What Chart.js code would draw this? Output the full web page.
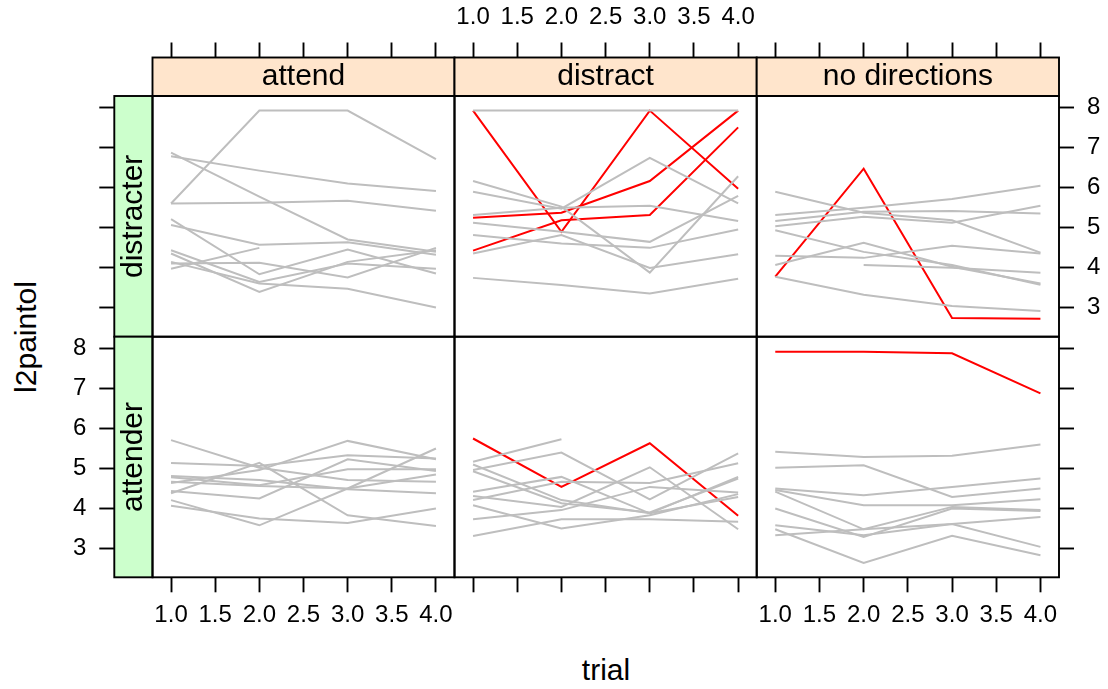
<!DOCTYPE html>
<html>
<head>
<meta charset="utf-8">
<title>l2paintol by trial</title>
<script src="https://cdn.jsdelivr.net/npm/chart.js@4/dist/chart.umd.min.js"></script>
<style>
html, body { margin: 0; padding: 0; background: #fff; }
#wrap { position: relative; width: 1108px; height: 689px; overflow: hidden; font-family: "Liberation Sans", Arial, sans-serif; }
#wrap canvas { position: absolute; left: 0; top: 0; }
.lab { position: absolute; font-size: 30px; line-height: 1; color: #000; white-space: nowrap; }
#ylab { left: 26px; top: 337px; transform: translate(-50%, -50%) rotate(-90deg); }
#xlab { left: 606px; top: 670px; transform: translate(-50%, -50%); }
</style>
</head>
<body>
<div id="wrap">
  <div id="ylab" class="lab">l2paintol</div>
  <div id="xlab" class="lab">trial</div>
</div>
<script>
// data
const TRIALS = [1, 2, 3, 4];
const COLS = ['attend', 'distract', 'no directions'];
const ROWS = ['distracter', 'attender'];
const X_TICKS = [1, 1.5, 2, 2.5, 3, 3.5, 4];
const Y_TICKS = [3, 4, 5, 6, 7, 8];

// one row of values per subject, per panel
const distracterAttend = [
  [5.60, 7.92, 7.92, 6.71],
  [6.87, 5.77, 4.70, 4.39],
  [6.78, 6.42, 6.10, 5.91],
  [5.60, 5.62, 5.67, 5.42],
  [5.06, 4.57, 4.63, 4.32],
  [5.21, 3.83, 4.45, 3.85],
  [4.43, 3.64, 4.10, 3.97],
  [4.35, 3.39, 4.14, 4.43],
  [3.97, 4.49, null, null],
  [4.10, 4.12, 3.75, 4.49],
  [4.14, 3.60, 3.47, 3.00]
];
const distracterAttendRed = [];

const distracterDistract = [
  [7.92, 7.92, 7.92, 7.92],
  [6.16, 5.52, 3.87, 6.28],
  [5.89, 5.47, 6.74, 5.60],
  [5.31, 5.49, 5.54, 5.16],
  [5.12, 4.89, 4.64, 5.79],
  [4.81, 4.60, 4.49, 4.95],
  [4.35, 4.81, 3.99, 4.33],
  [3.74, 3.56, 3.35, 3.72]
];
const distracterDistractRed = [
  [7.92, 4.89, 7.92, 5.97],
  [5.24, 5.37, 6.16, 7.92],
  [4.42, 5.18, 5.31, 7.50]
];

const distracterNoDir = [
  [5.89, 5.37, 5.18, 4.37],
  [5.31, 5.49, 5.71, 6.04],
  [5.16, 5.39, 5.41, 5.35],
  [5.03, 5.27, 5.12, 5.54],
  [4.93, 4.39, 4.06, 3.57],
  [4.29, 4.24, 4.54, 4.35],
  [4.06, 4.62, 4.02, 3.60],
  [null, 4.06, 3.99, 3.87],
  [3.77, 3.32, 3.04, 2.91]
];
const distracterNoDirRed = [
  [3.77, 6.47, 2.74, 2.72]
];

const attenderAttend = [
  [5.70, 5.01, 4.70, 4.66],
  [5.13, 5.05, 5.32, 5.24],
  [4.80, 4.70, 4.47, 4.37],
  [4.77, 4.57, 4.97, 4.97],
  [4.66, 4.55, 4.49, 4.84],
  [4.63, 4.95, 5.68, 5.22],
  [4.37, 5.13, 3.82, 3.55],
  [4.43, 4.24, 5.22, 4.93],
  [4.20, 3.57, 4.49, 5.49],
  [4.06, 3.74, 3.63, 3.99]
];
const attenderAttendRed = [];

const attenderDistract = [
  [5.16, 5.72, null, null],
  [4.95, 5.39, 4.22, 5.37],
  [5.09, 4.20, 3.87, 4.78],
  [4.92, 4.12, 3.89, 4.74],
  [4.41, 4.78, 3.87, 4.28],
  [4.30, 4.03, 5.02, 3.47],
  [4.20, 4.66, 4.63, 5.12],
  [4.07, 3.49, 3.82, 4.35],
  [3.72, 3.95, 4.53, 4.39],
  [3.30, 3.72, 3.72, 3.66]
];
const attenderDistractRed = [
  [5.74, 4.53, 5.62, 3.81]
];

const attenderNoDir = [
  [5.41, 5.28, 5.31, 5.59],
  [5.01, 5.07, 4.28, 4.49],
  [4.49, 4.32, 4.53, 4.74],
  [4.45, 4.07, 4.07, 4.22],
  [4.41, 3.47, 4.03, 3.95],
  [3.99, 3.28, 3.99, 3.93],
  [3.57, 3.32, 3.60, 3.03],
  [3.32, 3.47, 3.60, 3.78],
  [3.47, 2.63, 3.31, 2.82]
];
const attenderNoDirRed = [
  [7.91, 7.91, 7.87, 6.87]
];

const PANELS = [
  [[distracterAttend, distracterAttendRed], [distracterDistract, distracterDistractRed], [distracterNoDir, distracterNoDirRed]],
  [[attenderAttend, attenderAttendRed], [attenderDistract, attenderDistractRed], [attenderNoDir, attenderNoDirRed]]
];

// layout of the panel grid (pixels)
const W = 1108, H = 689;
const COL_L = [152.5, 454.5, 756.7], COL_R = [454.5, 756.7, 1059];
const ROW_T = [96, 336.7], ROW_B = [336.7, 577.3];
const STRIP_H = 38.5, STRIP_W = 38.2;
const X_MIN = 0.79, X_MAX = 4.21, Y_MIN = 2.27, Y_MAX = 8.285;
const GRAY = 'rgb(190,190,190)', RED = 'rgb(255,0,0)';

Chart.defaults.font.family = '"Liberation Sans", Arial, sans-serif';
Chart.defaults.color = '#000';

const frame = {
  id: 'frame',
  beforeDraw(chart) {
    const ctx = chart.ctx;
    ctx.save();
    [['xs', '#ffe5cc'], ['ys', '#ccffcc']].forEach(([id, fill]) => {
      const s = chart.scales[id];
      if (s) { ctx.fillStyle = fill; ctx.fillRect(s.left, s.top, s.width, s.height); }
    });
    ctx.restore();
  },
  afterDraw(chart) {
    const ctx = chart.ctx, a = chart.chartArea;
    ctx.save();
    ctx.strokeStyle = '#000';
    ctx.lineWidth = 1.9;
    ctx.strokeRect(a.left, a.top, a.right - a.left, a.bottom - a.top);
    ['xs', 'ys'].forEach(id => {
      const s = chart.scales[id];
      if (s) ctx.strokeRect(s.left, s.top, s.width, s.height);
    });
    ctx.restore();
  }
};

function subject(vals, color) {
  return {
    data: TRIALS.map((t, i) => ({x: t, y: vals[i]})),
    borderColor: color,
    borderWidth: 2,
    pointRadius: 0,
    fill: false,
    tension: 0,
    spanGaps: false
  };
}

function stripScale(position, text, size) {
  return {
    type: 'linear',
    position: position,
    weight: 0,
    ticks: {display: false},
    grid: {display: false},
    border: {display: false},
    title: {display: true, text: text, color: '#000', font: {size: 30}, padding: {top: size / 2 - 18, bottom: 0}},
    afterFit: s => { if (position === 'top') s.height = size; else s.width = size; }
  };
}

function tickGrid() {
  return {drawOnChartArea: false, drawTicks: true, tickLength: 15, tickColor: '#000', tickWidth: 1.9};
}

function makePanel(r, c) {
  const canvas = document.createElement('canvas');
  canvas.width = W;
  canvas.height = H;
  document.getElementById('wrap').appendChild(canvas);

  const top = r === 0, left = c === 0, right = c === 2;
  const [gray, red] = PANELS[r][c];
  const datasets = gray.map(v => subject(v, GRAY)).concat(red.map(v => subject(v, RED)));

  // axis boxes reach to the canvas edge so labels are not clipped
  const xSize = top ? ROW_T[r] - STRIP_H : 70;
  const ySize = left ? COL_L[c] - STRIP_W : W - COL_R[c];

  const scales = {
    x: {
      type: 'linear',
      position: top ? 'top' : 'bottom',
      weight: 1,
      min: X_MIN,
      max: X_MAX,
      afterBuildTicks: s => { s.ticks = X_TICKS.map(v => ({value: v})); },
      ticks: {
        display: top ? c === 1 : c !== 1,
        autoSkip: false,
        maxRotation: 0,
        padding: top ? 11 : 9,
        font: {size: 24},
        color: '#000',
        callback: v => v.toFixed(1)
      },
      grid: tickGrid(),
      border: {display: false},
      afterFit: s => { s.height = xSize; }
    },
    y: {
      type: 'linear',
      display: left || right,
      position: left ? 'left' : 'right',
      weight: 1,
      min: Y_MIN,
      max: Y_MAX,
      afterBuildTicks: s => { s.ticks = Y_TICKS.map(v => ({value: v})); },
      ticks: {
        display: (left && !top) || (right && top),
        autoSkip: false,
        padding: 13,
        font: {size: 24},
        color: '#000'
      },
      grid: tickGrid(),
      border: {display: false},
      afterFit: s => { if (left || right) s.width = ySize; }
    }
  };
  if (top) scales.xs = stripScale('top', COLS[c], STRIP_H);
  if (left) scales.ys = stripScale('left', ROWS[r], STRIP_W);

  const padding = {
    left: left ? 0 : COL_L[c],
    right: right ? 0 : W - COL_R[c],
    top: top ? 0 : ROW_T[r],
    bottom: top ? H - ROW_B[r] : H - ROW_B[r] - xSize
  };

  new Chart(canvas.getContext('2d'), {
    type: 'line',
    data: {datasets: datasets},
    options: {
      responsive: false,
      animation: false,
      events: [],
      layout: {padding: padding, autoPadding: false},
      plugins: {legend: {display: false}, tooltip: {enabled: false}},
      scales: scales
    },
    plugins: [frame]
  });
}

for (let r = 0; r < 2; r++) {
  for (let c = 0; c < 3; c++) makePanel(r, c);
}
</script>
</body>
</html>
